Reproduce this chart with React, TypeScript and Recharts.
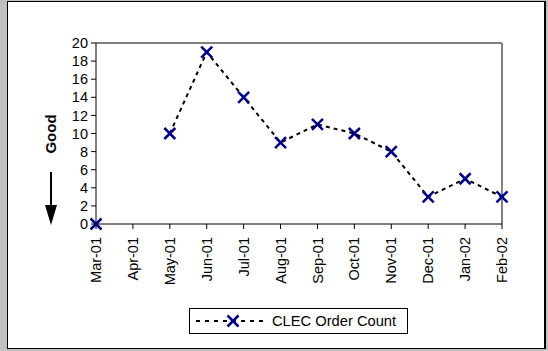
import React from "react";
import { LineChart, Line, XAxis, YAxis, ReferenceLine, Legend } from "recharts";

const months = ["Mar-01", "Apr-01", "May-01", "Jun-01", "Jul-01", "Aug-01", "Sep-01", "Oct-01", "Nov-01", "Dec-01", "Jan-02", "Feb-02"];
const orderCount: (number | null)[] = [0, null, 10, 19, 14, 9, 11, 10, 8, 3, 5, 3];
const yTicks = [0, 2, 4, 6, 8, 10, 12, 14, 16, 18, 20];
const seriesName = "CLEC Order Count";
const axisLabel = "Good";

const data = months.map((m, i) => ({ month: m, count: orderCount[i] }));

const FONT = "'Liberation Sans', Arial, sans-serif";
const NAVY = "#000080";

const XDot = (props: any) => {
  const { cx, cy, value } = props;
  if (cx == null || cy == null || value == null) return null;
  const r = 5.5;
  return (
    <g>
      <line x1={cx - r} y1={cy - r} x2={cx + r} y2={cy + r} stroke={NAVY} strokeWidth={2.5} />
      <line x1={cx - r} y1={cy + r} x2={cx + r} y2={cy - r} stroke={NAVY} strokeWidth={2.5} />
    </g>
  );
};

const XTick = (props: any) => {
  const { x, y, payload } = props;
  return (
    <g transform={`translate(${x},${y + 6})`}>
      <text transform="rotate(-90)" textAnchor="end" dy="0.35em" fontSize={14.5} fontFamily={FONT} fill="#000">
        {payload.value}
      </text>
    </g>
  );
};

const LegendContent = () => (
  <div
    style={{
      boxSizing: "border-box",
      width: 219,
      height: 26,
      border: "1px solid #000",
      background: "#fff",
      display: "flex",
      alignItems: "center",
      fontFamily: FONT,
      fontSize: 14.7,
    }}
  >
    <svg width={82} height={24} style={{ display: "block" }}>
      <line x1={6} y1={12} x2={78} y2={12} stroke="#000" strokeWidth={2} strokeDasharray="4 5" />
      <XDot cx={43} cy={12} value={1} />
    </svg>
    <span style={{ color: "#000", whiteSpace: "nowrap" }}>{seriesName}</span>
  </div>
);

export default function App() {
  return (
    <div style={{ position: "fixed", left: 0, top: 0, width: 548, height: 351, background: "#c0c0c0", overflow: "hidden" }}>
      <div
        style={{
          position: "absolute",
          left: 7,
          top: 1,
          width: 539,
          height: 348,
          boxSizing: "border-box",
          border: "1px solid #000",
          borderRight: "2px solid #000",
          background: "#fff",
        }}
      />
      <div style={{ position: "absolute", left: 0, top: 0 }}>
        <LineChart width={548} height={351} data={data} margin={{ top: 43, right: 46, left: 36, bottom: 67 }}>
          <ReferenceLine y={20} stroke="#808080" strokeWidth={2} ifOverflow="visible" />
          <ReferenceLine x="Feb-02" stroke="#808080" strokeWidth={2} ifOverflow="visible" />
          <XAxis
            dataKey="month"
            interval={0}
            height={60}
            tickSize={5}
            tickLine={{ stroke: "#000" }}
            axisLine={{ stroke: "#000" }}
            tick={<XTick />}
          />
          <YAxis
            domain={[0, 20]}
            ticks={yTicks}
            interval={0}
            width={60}
            tickSize={5}
            tickMargin={3}
            tickLine={{ stroke: "#000" }}
            axisLine={{ stroke: "#000" }}
            tick={{ fill: "#000", fontSize: 14.5, fontFamily: FONT }}
          />
          <Line
            type="linear"
            dataKey="count"
            name={seriesName}
            stroke="#000"
            strokeWidth={2}
            strokeDasharray="4 4"
            dot={<XDot />}
            activeDot={false}
            connectNulls={false}
            isAnimationActive={false}
          />
          <Legend
            layout="horizontal"
            verticalAlign="middle"
            align="center"
            wrapperStyle={{ left: 189, top: 308, width: 219, height: 26, bottom: "auto", right: "auto" }}
            content={<LegendContent />}
          />
        </LineChart>
      </div>
      <svg style={{ position: "absolute", left: 0, top: 0 }} width={548} height={351}>
        <text
          transform="translate(51,134) rotate(-90)"
          textAnchor="middle"
          dy="0.35em"
          fontSize={15}
          fontWeight="bold"
          fontFamily={FONT}
          fill="#000"
        >
          {axisLabel}
        </text>
        <line x1={51} y1={172} x2={51} y2={208} stroke="#000" strokeWidth={2} />
        <polygon points="45,205 57,205 51,225" fill="#000" />
      </svg>
    </div>
  );
}
